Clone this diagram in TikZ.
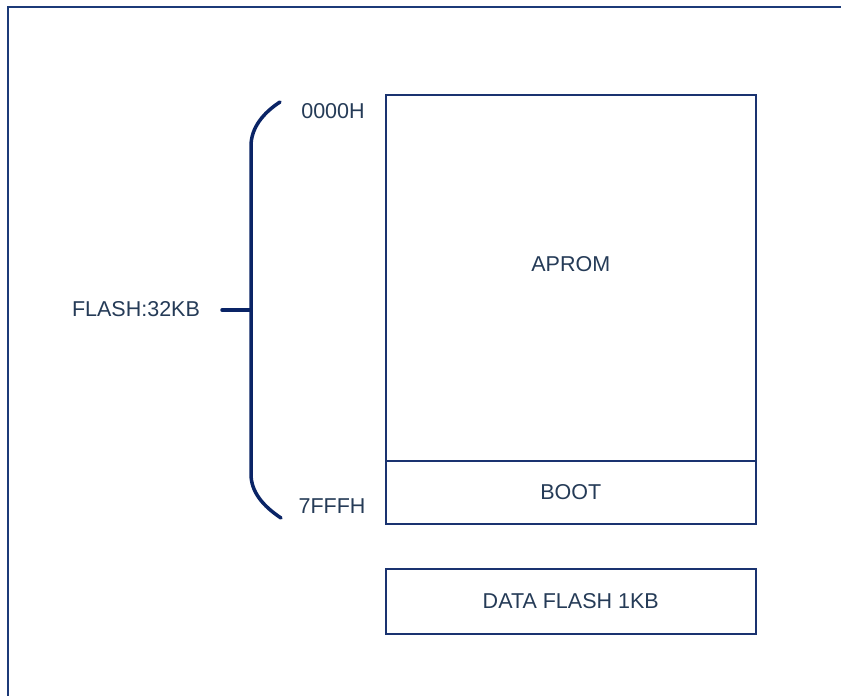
\documentclass[tikz,border=0pt]{standalone}
\usepackage{fontspec}
\setmainfont{Liberation Sans}
\definecolor{frame}{HTML}{1C3A78}
\definecolor{boxline}{HTML}{1A3370}
\definecolor{brace}{HTML}{0A2466}
\definecolor{txt}{HTML}{253B57}
\begin{document}
\begin{tikzpicture}[x=1pt,y=-1pt,
  lbl/.style={text=txt,font=\fontsize{21.5}{25}\selectfont,inner sep=0pt},
  membox/.style={draw=boxline,line width=1.5pt}]
\clip (0,0) rectangle (841,696);
\fill[white] (0,0) rectangle (841,696);
\draw[frame,line width=2pt] (8,7) rectangle (860,720);
% memory boxes
\node[membox,minimum width=370pt,minimum height=366pt,anchor=north west,inner sep=0pt] (aprom) at (385,94) {};
\node[membox,minimum width=370pt,minimum height=63pt,anchor=north west,inner sep=0pt] (boot) at (385,460) {};
\node[membox,minimum width=370pt,minimum height=65pt,anchor=north west,inner sep=0pt] (data) at (385,568) {};
\node[lbl] at ([yshift=14pt]aprom.center) {APROM};
\node[lbl] at (boot.center) {BOOT};
\node[lbl] at (data.center) {DATA FLASH 1KB};
% brace
\coordinate (btop) at (280,102);
\coordinate (bbot) at (281,518);
\coordinate (bmid) at (251,310);
\coordinate (tick) at (222,310);
\draw[brace,line width=3.5pt,line cap=round] (btop) .. controls (263,113) and (251,128) .. (251,146) -- (251,474) .. controls (251,492) and (263,506) .. (bbot);
\draw[brace,line width=3.5pt,line cap=round] (tick) -- (bmid);
\node[lbl] (a0) at (333,111) {0000H};
\node[lbl] (a1) at (332,506) {7FFFH};
\node[lbl] (fl) at (136,309) {FLASH:32KB};
\end{tikzpicture}
\end{document}
